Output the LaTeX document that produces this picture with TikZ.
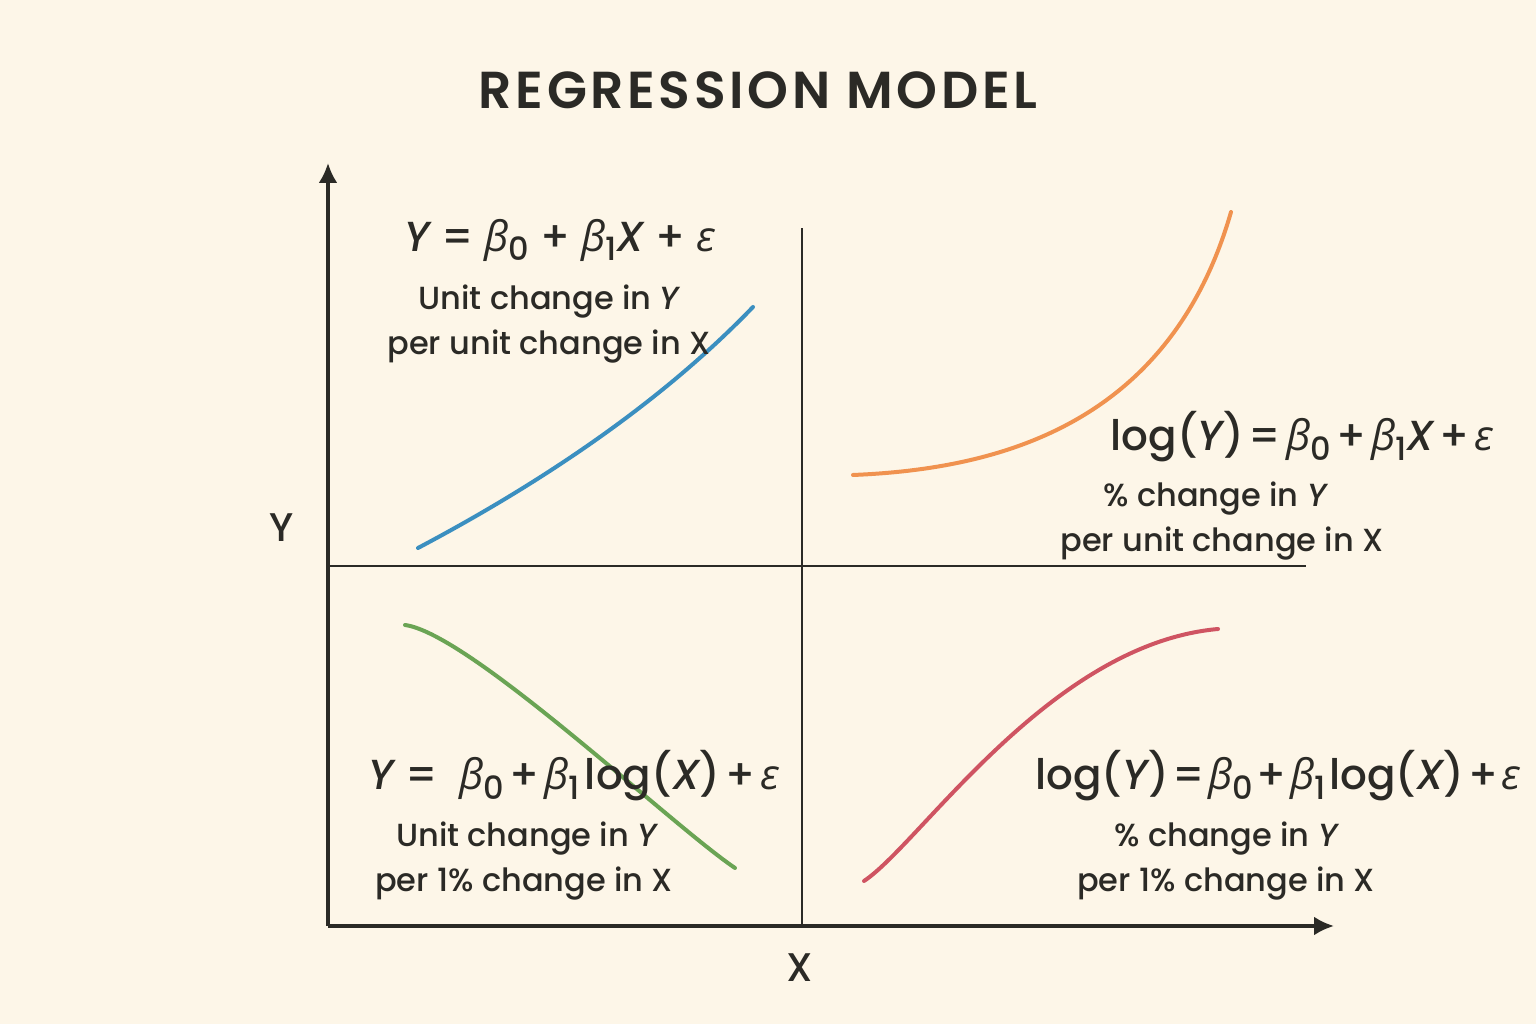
\documentclass[tikz,border=0pt]{standalone}
\usepackage{fontspec}
\usetikzlibrary{arrows.meta}
\setmainfont{Poppins}[UprightFont={* Medium},ItalicFont={* Medium Italic},BoldFont={* SemiBold}]
\newfontfamily\grk{Open Sans}
\definecolor{bg}{HTML}{FDF6E8}
\definecolor{ink}{HTML}{2B2A26}
\definecolor{cblue}{HTML}{3B8FC0}
\definecolor{corange}{HTML}{F0924F}
\definecolor{cgreen}{HTML}{6AA454}
\definecolor{cred}{HTML}{CF5462}
\newcommand\sbs[1]{\raisebox{-0.22em}{\fontsize{32}{32}\selectfont #1}}
\newcommand\bzero{{\grk\itshape β}\sbs{0}}
\newcommand\bone{{\grk\itshape β}\sbs{1}}
\newcommand\eps{{\grk\itshape ε}}
\newcommand\vY{{\itshape Y}}
\newcommand\vX{{\itshape X}}
\newcommand\tsp{\hspace{5pt}}
\newcommand\ssp{\hspace{3.5pt}}
\begin{document}
\begin{tikzpicture}[x=1pt,y=1pt,
  axis/.style={ink,line width=3.5pt},
  divider/.style={ink,line width=2pt},
  curve/.style={line width=4pt,line cap=round},
  eqn/.style={ink,font=\fontsize{42}{48}\selectfont,inner sep=0pt},
  desc/.style={ink,font=\fontsize{32}{45}\selectfont,align=center,inner sep=0pt},
  lbl/.style={ink,font=\fontsize{40}{48}\selectfont,inner sep=0pt}]
\fill[bg] (0,0) rectangle (1536,1024);
\useasboundingbox (0,0) rectangle (1536,1024);
% title
\node[ink,font=\fontsize{52}{60}\selectfont\bfseries\addfontfeatures{LetterSpace=7}] (title) at (758,934) {REGRESSION MODEL};
% axes
\coordinate (O) at (328,98);
\coordinate (ytip) at (328,861);
\coordinate (xtip) at (1334,98);
\draw[axis,-{Latex[length=20pt,width=19pt]}] (O) -- (ytip);
\draw[axis,-{Latex[length=20pt,width=19pt]}] (O) -- (xtip);
\coordinate (vtop) at (802,796);
\coordinate (vbot) at (802,98);
\coordinate (hl) at (328,458);
\coordinate (hr) at (1306,458);
\draw[divider] (vbot) -- (vtop);
\draw[divider] (hl) -- (hr);
\node[lbl] (ylab) at (282,496) {Y};
\node[lbl] (xlab) at (800,56) {X};
% curves
\draw[curve,cblue] (418,476) .. controls (520,530) and (650,610) .. (753,717);
\draw[curve,corange] (853,549) .. controls (1000,555) and (1170,600) .. (1231,812);
\draw[curve,cgreen] (405,399) .. controls (470,390) and (670,200) .. (735,156);
\draw[curve,cred] (864,143) .. controls (920,180) and (1050,380) .. (1218,395);
% texts Q1
\node[eqn] (eq1) at (560,784) {\vY{} = \bzero{} + \bone\vX{} + \eps};
\node[desc] (d1) at (549,700) {Unit change in \vY\\per unit change in X};
% Q2
\node[eqn] (eq2) at (1302,587) {log(\vY)\tsp=\tsp\bzero\tsp+\tsp\bone\vX\tsp+\tsp\eps};
\node[desc] (d2) at (1222,503) {\hspace*{-14pt}\% change in \vY\\per unit change in X};
% Q3
\node[eqn] (eq3) at (574,248) {\vY{} =\ \ \bzero\tsp+\tsp\bone\tsp log(\vX)\tsp+\tsp\eps};
\node[desc] (d3) at (524,163) {\hspace*{5pt}Unit change in \vY\\per 1\% change in X};
% Q4
\node[eqn] (eq4) at (1278,248) {log(\vY)\ssp=\ssp\bzero\ssp+\ssp\bone\ssp log(\vX)\ssp+\ssp\eps};
\node[desc] (d4) at (1226,163) {\% change in \vY\\per 1\% change in X};
\end{tikzpicture}
\end{document}
